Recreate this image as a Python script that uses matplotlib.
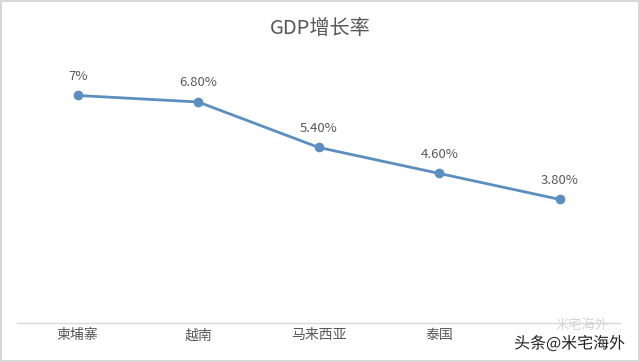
import matplotlib
matplotlib.use("Agg")
import matplotlib.pyplot as plt
from matplotlib.patches import Rectangle
import matplotlib.patheffects as pe

plt.rcParams['font.family'] = ['Noto Sans CJK SC', 'DejaVu Sans']

categories = ["柬埔寨", "越南", "马来西亚", "泰国", "新加坡"]
values = [7.0, 6.8, 5.4, 4.6, 3.8]
labels = ["7%", "6.80%", "5.40%", "4.60%", "3.80%"]
title = "GDP增长率"
# the last category label is hidden by the watermark in the reference
tick_labels = categories[:-1] + [""]

fig = plt.figure(figsize=(6.4, 3.62), dpi=100)
ax = fig.add_axes([0.027, 0.108, 0.942, 0.718])

x = list(range(len(categories)))
ax.plot(x, values, color="#5b8fc0", lw=2.0, marker="o", ms=6, zorder=3)
for xi, v, lab in zip(x, values, labels):
    ax.annotate(lab, (xi, v), xytext=(0, 9), textcoords="offset points",
                ha="center", va="bottom", fontsize=9.5, color="#595959")

ax.set_xlim(-0.5, len(categories) - 0.5)
ax.set_ylim(0, 8)
ax.set_xticks(x)
ax.set_xticklabels(tick_labels, fontsize=10, color="#595959")
ax.tick_params(axis="x", length=0, pad=4)
ax.set_yticks([])
for s in ["top", "left", "right"]:
    ax.spines[s].set_visible(False)
ax.spines["bottom"].set_color("#d9d9d9")
ax.spines["bottom"].set_linewidth(1.0)

fig.text(0.5, 0.922, title, ha="center", va="center", fontsize=14.5, color="#595959")

# outer frame
fig.patches.append(Rectangle((0.002, 0.003), 0.996, 0.994, transform=fig.transFigure,
                             fill=False, edgecolor="#d0d0d0", lw=1.2))

# watermark
fig.text(0.91, 0.1, "米宅海外", ha="center", va="center", fontsize=9.5,
         color="#d4d4d4", zorder=6)
fig.text(0.89, 0.05, "头条@米宅海外", ha="center", va="center", fontsize=11.5,
         color="#222222", zorder=7,
         path_effects=[pe.withStroke(linewidth=2, foreground="white")])

fig.savefig("out.png", dpi=100)
